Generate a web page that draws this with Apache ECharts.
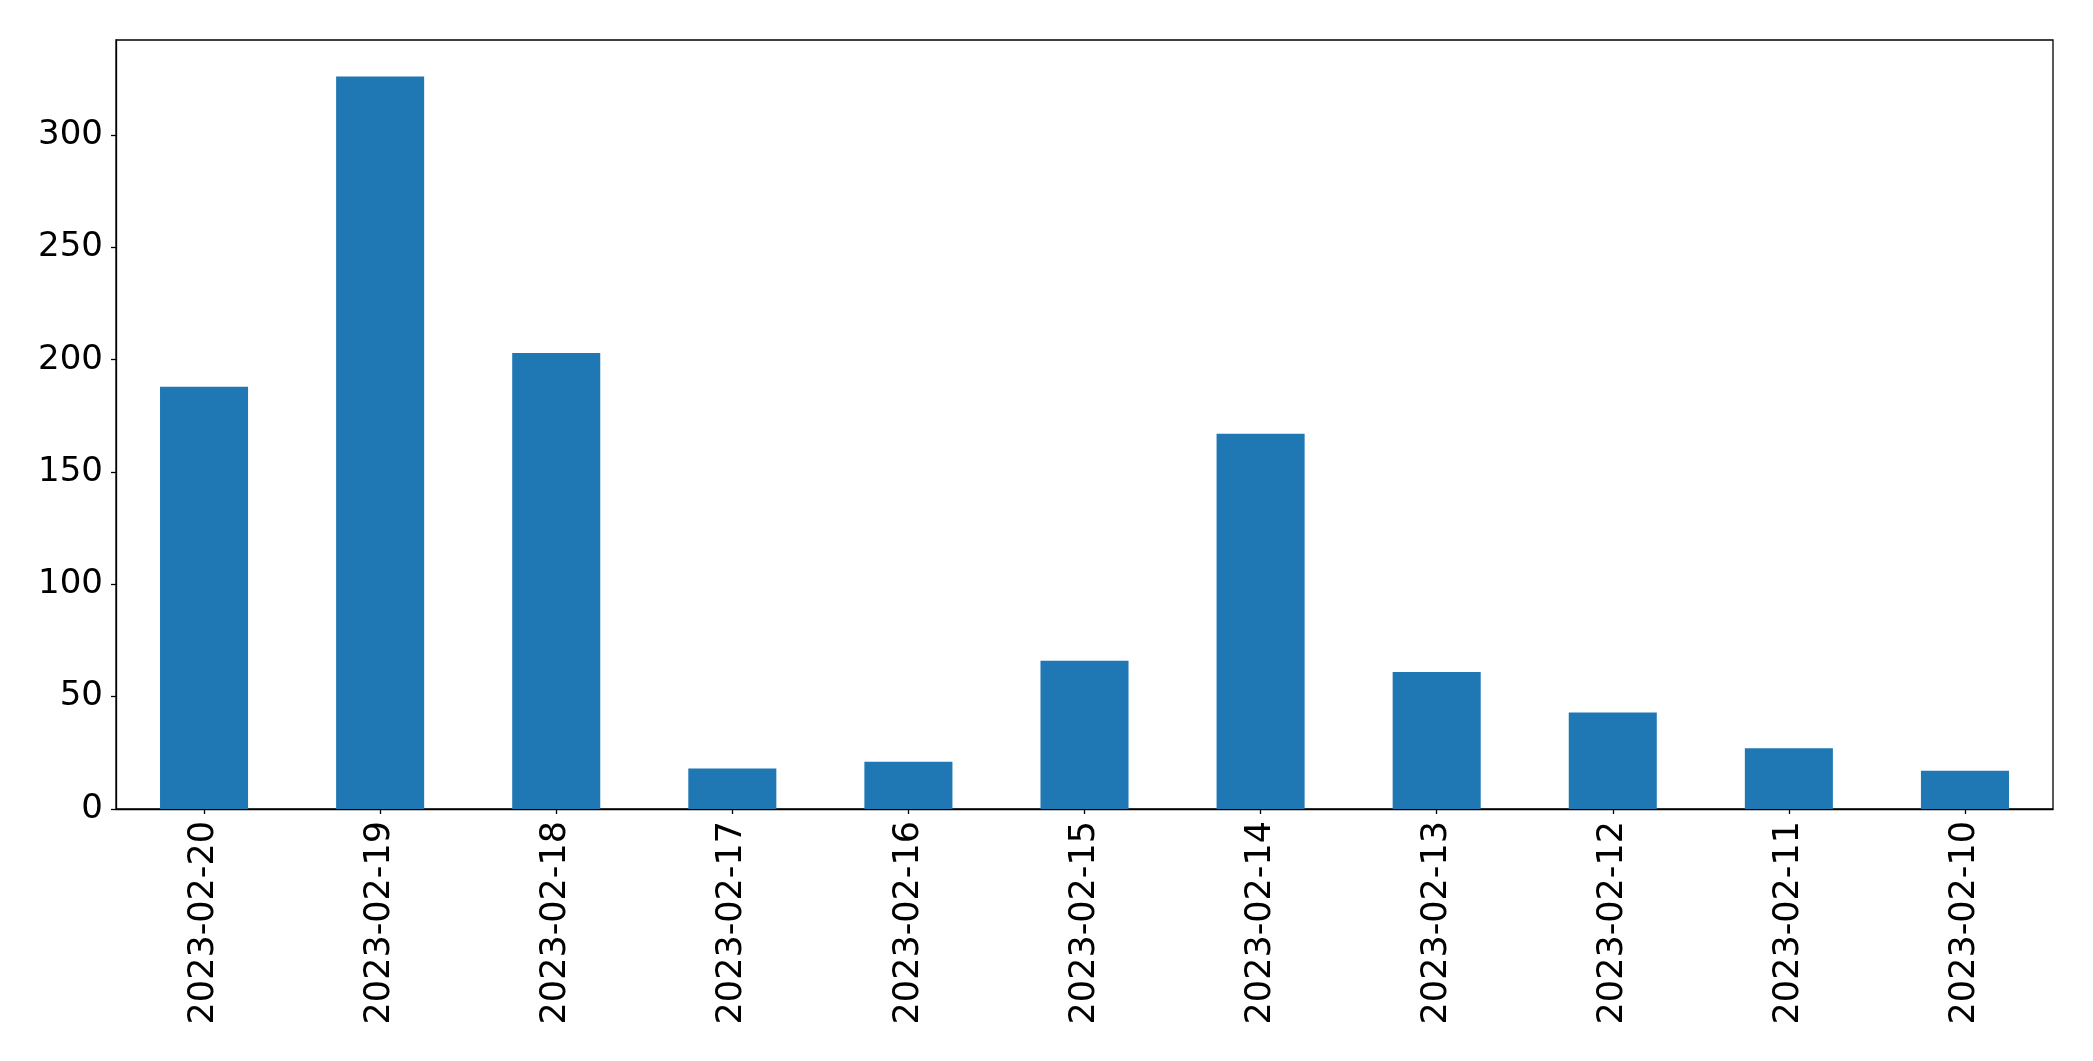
<!DOCTYPE html>
<html>
<head>
<meta charset="utf-8">
<script src="https://cdn.jsdelivr.net/npm/echarts@6/dist/echarts.min.js"></script>
<style>
html,body{margin:0;padding:0;background:#fff;}
#chart{width:2093px;height:1061px;}
</style>
</head>
<body>
<div id="chart"></div>
<script>
const categories = ['2023-02-20','2023-02-19','2023-02-18','2023-02-17','2023-02-16','2023-02-15','2023-02-14','2023-02-13','2023-02-12','2023-02-11','2023-02-10'];
const values = [188, 326, 203, 18, 21, 66, 167, 61, 43, 27, 17];
const yTicks = [0, 50, 100, 150, 200, 250, 300];

const chart = echarts.init(document.getElementById('chart'), null, {renderer: 'canvas'});
const font = 'DejaVu Sans';
chart.setOption({
  animation: false,
  backgroundColor: '#ffffff',
  grid: {left: 116, right: 40, top: 40, bottom: 252, show: true, borderColor: '#000', borderWidth: 1.3, backgroundColor: 'transparent', outerBoundsMode: 'none'},
  xAxis: {
    type: 'category',
    data: categories,
    boundaryGap: true,
    axisLine: {show: true, lineStyle: {color: '#000', width: 1.3}},
    axisTick: {show: true, alignWithLabel: true, length: 5, lineStyle: {color: '#000', width: 1.3}},
    axisLabel: {rotate: 90, color: '#000', fontFamily: font, fontSize: 35, margin: 12, interval: 0},
    splitLine: {show: false}
  },
  yAxis: {
    type: 'value',
    min: 0,
    max: Math.max(...values) * 1.05,
    axisLine: {show: true, lineStyle: {color: '#000', width: 1.3}},
    axisTick: {show: true, length: 5, lineStyle: {color: '#000', width: 1.3}, customValues: yTicks},
    axisLabel: {color: '#000', fontFamily: font, fontSize: 34, margin: 13, customValues: yTicks},
    splitLine: {show: false}
  },
  series: [{
    type: 'bar',
    data: values,
    barWidth: '50%',
    itemStyle: {color: '#1f77b4'}
  }]
});
</script>
</body>
</html>
